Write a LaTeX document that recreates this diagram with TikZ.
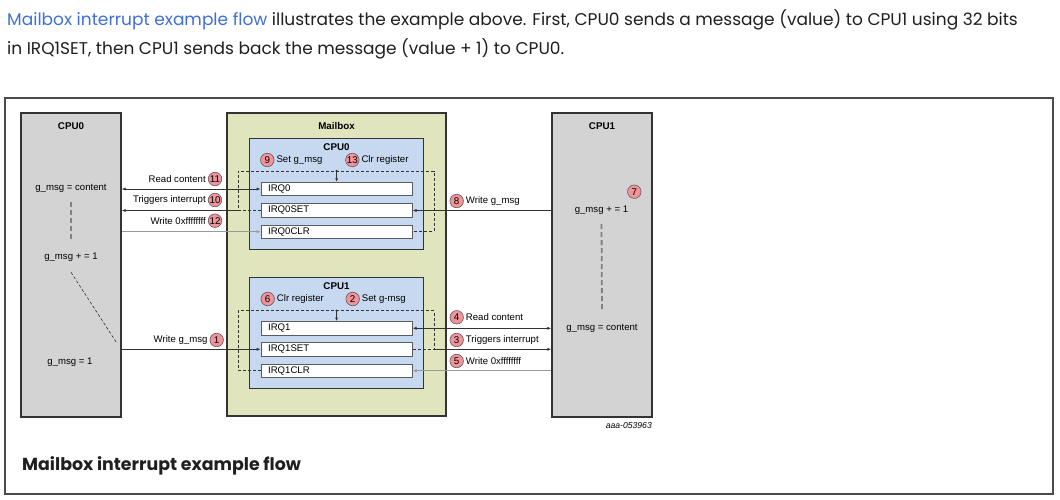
\documentclass[tikz,border=0pt]{standalone}
\usepackage{fontspec}
\setmainfont{Liberation Sans}
\newfontfamily\popfont{Poppins}
\usetikzlibrary{positioning,arrows.meta}
\definecolor{cpugray}{HTML}{D3D3D3}
\definecolor{mbgreen}{HTML}{E1E5BD}
\definecolor{regblue}{HTML}{C6D9F0}
\definecolor{stepred}{HTML}{F2939B}
\definecolor{linkblue}{HTML}{3F6FD8}
\definecolor{edge}{HTML}{333333}
\begin{document}
\begin{tikzpicture}[x=1pt,y=-1pt,
    every node/.style={inner sep=1pt},
    font=\fontsize{9.6}{11}\selectfont,
    cpu/.style={draw=edge,line width=1.4pt,fill=cpugray,minimum width=100pt,minimum height=304pt,inner sep=0pt},
    mailbox/.style={draw=edge,line width=1.4pt,fill=mbgreen,minimum width=219pt,minimum height=303pt,inner sep=0pt},
    bank/.style={draw=edge,line width=1.4pt,fill=regblue,minimum width=174pt,minimum height=111pt,inner sep=0pt},
    reg/.style={draw=edge!80,line width=0.9pt,fill=white,text width=137pt,inner xsep=7pt,inner ysep=0pt,minimum height=13.4pt,align=left},
    stepnum/.style={circle,draw=edge!80,line width=0.6pt,fill=stepred,inner sep=0pt,minimum size=13.5pt,font=\fontsize{9.8}{10}\selectfont},
    title/.style={font=\bfseries\fontsize{9.8}{11}\selectfont},
    conn/.style={draw=edge,line width=0.9pt,-{Latex[length=4pt,width=3.2pt]}},
    both/.style={draw=edge,line width=0.9pt,{Latex[length=4pt,width=3.2pt]}-{Latex[length=4pt,width=3.2pt]}},
    clrline/.style={draw=gray!80,line width=1.3pt,-{Latex[length=4pt,width=3.2pt]}},
    loopline/.style={draw=edge,line width=0.7pt,dash pattern=on 3pt off 2pt},
    flowdash/.style={draw=gray,line width=1.8pt,dash pattern=on 5pt off 3pt},
    thindash/.style={draw=edge,line width=0.6pt,dash pattern=on 3pt off 2pt},
    tick/.style={draw=edge,line width=0.7pt,-{Latex[length=3.5pt,width=3pt]}}]
  \useasboundingbox (0,0) rectangle (1060,500);

  \node[anchor=base west,inner sep=0pt,text=black!88,font=\popfont\fontsize{17}{20}\selectfont] (intro1) at (7,25.3)
    {\textcolor{linkblue}{Mailbox interrupt example flow} illustrates the example above. First, CPU0 sends a message (value) to CPU1 using 32 bits};
  \node[anchor=base west,inner sep=0pt,text=black!88,font=\popfont\fontsize{17}{20}\selectfont] (intro2) at (7,54.3)
    {in IRQ1SET, then CPU1 sends back the message (value + 1) to CPU0.};
  \draw[draw=black!70,line width=1.1pt] (5,98) rectangle (1053,494);
  \node[anchor=base west,inner sep=0pt,text=black!88,font=\popfont\bfseries\fontsize{17.4}{20}\selectfont] (caption) at (22,470)
    {Mailbox interrupt example flow};

  \node[cpu] (cpu0) at (71,265) {};
  \node[mailbox] (mbox) at (336.5,264.5) {};
  \node[cpu] (cpu1) at (602,265) {};
  \node[bank] (bank0) at (336.4,194.2) {};
  \node[bank] (bank1) at (336.4,333) {};

  \node[title] (cpu0t) at (71,125.7) {CPU0};
  \node (s0a) at (71,188) {g\_msg = content};
  \node (s0b) at (71,256.7) {g\_msg + = 1};
  \node (s0c) at (70,361.7) {g\_msg = 1};
  \draw[flowdash] ([yshift=-14pt]s0a.center) -- ([yshift=16.6pt]s0b.center);
  \draw[thindash] ([yshift=-15.6pt]s0b.center) -- ++(46,71);

  \node[title] (cpu1t) at (602,125.7) {CPU1};
  \node[stepnum] (n7) at (634.3,191.7) {7};
  \node (s1a) at (601.5,210) {g\_msg + = 1};
  \node (s1b) at (602,328.3) {g\_msg = content};
  \draw[flowdash] ([yshift=-14pt]s1a.center) -- ([yshift=16.6pt]s1b.center);

  \node[title] (mboxt) at (336.5,125.7) {Mailbox};
  \node[title] (bank0t) at (336.5,146.7) {CPU0};
  \node[stepnum] (n9) at (267.3,160) {9};
  \node[right=1pt of n9] (n9l) {Set g\_msg};
  \node[stepnum] (n13) at (352.3,160) {13};
  \node[right=1pt of n13] (n13l) {Clr register};
  \node[title] (bank1t) at (336.5,285.7) {CPU1};
  \node[stepnum] (n6) at (267.7,299) {6};
  \node[right=1pt of n6] (n6l) {Clr register};
  \node[stepnum] (n2) at (352.7,299) {2};
  \node[right=1pt of n2] (n2l) {Set g-msg};

  \node[reg] (irq0) at (336.6,189) {IRQ0};
  \node[reg] (irq0set) at (336.6,210.5) {IRQ0SET};
  \node[reg] (irq0clr) at (336.6,231.7) {IRQ0CLR};
  \node[reg] (irq1) at (336.6,328.3) {IRQ1};
  \node[reg] (irq1set) at (336.6,349.3) {IRQ1SET};
  \node[reg] (irq1clr) at (336.6,370.7) {IRQ1CLR};

  \coordinate (lt0) at (238.3,171);
  \coordinate (rt0) at (434,171);
  \coordinate (lt1) at (238.3,310.7);
  \coordinate (rt1) at (434,310.7);
  \coordinate (j0) at (336.6,171);
  \coordinate (j1) at (336.6,310.7);
  \draw[loopline] (irq0set.west) -| (lt0) -- (rt0) |- (irq0clr.east);
  \draw[loopline] (irq1clr.west) -| (lt1) -- (rt1) |- (irq1set.east);
  \fill[edge] (j0) circle (1.3pt);
  \fill[edge] (j1) circle (1.3pt);
  \draw[tick] (j0) -- (irq0.north);
  \draw[tick] (j1) -- (irq1.north);

  \draw[both] (irq0.west) -- (cpu0.east |- irq0.west);
  \draw[conn] (lt0 |- irq0set.west) -- (cpu0.east |- irq0set.west);
  \draw[clrline] (cpu0.east |- irq0clr.west) -- (irq0clr.west);
  \draw[conn] (cpu1.west |- irq0set.east) -- (irq0set.east);
  \draw[conn] (cpu0.east |- irq1set.west) -- (irq1set.west);
  \draw[both] (irq1.east) -- (cpu1.west |- irq1.east);
  \draw[conn] (rt1 |- irq1set.east) -- (cpu1.west |- irq1set.east);
  \draw[clrline] (cpu1.west |- irq1clr.east) -- (irq1clr.east);

  \node[stepnum] (n11) at (215,179) {11};
  \node[left=1pt of n11] (n11l) {Read content};
  \node[stepnum] (n10) at (215,200) {10};
  \node[left=1pt of n10] (n10l) {Triggers interrupt};
  \node[stepnum] (n12) at (215,220.7) {12};
  \node[left=1pt of n12] (n12l) {Write 0xffffffff};
  \node[stepnum] (n1) at (216.7,340) {1};
  \node[left=1pt of n1] (n1l) {Write g\_msg};
  \node[stepnum] (n8) at (456.7,201) {8};
  \node[right=1pt of n8] (n8l) {Write g\_msg};
  \node[stepnum] (n4) at (456.7,317.3) {4};
  \node[right=1pt of n4] (n4l) {Read content};
  \node[stepnum] (n3) at (456.7,340) {3};
  \node[right=1pt of n3] (n3l) {Triggers interrupt};
  \node[stepnum] (n5) at (456.7,361) {5};
  \node[right=1pt of n5] (n5l) {Write 0xffffffff};

  \node[anchor=east,inner sep=0pt,font=\itshape\fontsize{8.6}{9}\selectfont] (docid) at (652,426) {aaa-053963};
\end{tikzpicture}
\end{document}
